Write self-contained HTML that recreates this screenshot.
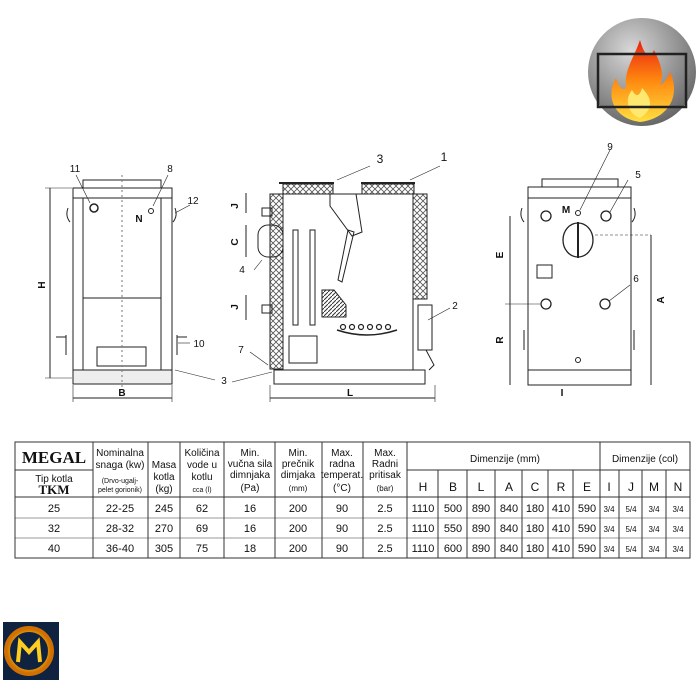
<!DOCTYPE html>
<html><head><meta charset="utf-8"><style>
body{margin:0;background:#fff;width:700px;height:700px;overflow:hidden;font-family:"Liberation Sans",sans-serif}
svg{position:absolute;left:0;top:0}
</style></head><body>
<svg width="700" height="700" viewBox="0 0 700 700" font-family="Liberation Sans, sans-serif">
<defs>
<radialGradient id="cg" cx="0.4" cy="0.3" r="0.8"><stop offset="0" stop-color="#d8d8d8"/><stop offset="1" stop-color="#5a5a5a"/></radialGradient>
<linearGradient id="fg" x1="0" y1="1" x2="0" y2="0"><stop offset="0" stop-color="#ffe040"/><stop offset="0.5" stop-color="#ff8a10"/><stop offset="1" stop-color="#e82010"/></linearGradient>
<pattern id="hx" width="6" height="6" patternUnits="userSpaceOnUse"><path d="M0 0L6 6M6 0L0 6" stroke="#555" stroke-width="0.8"/></pattern>
<pattern id="hd" width="4" height="4" patternUnits="userSpaceOnUse"><path d="M0 4L4 0" stroke="#333" stroke-width="1"/></pattern>
<radialGradient id="lg" cx="0.5" cy="0.5" r="0.5"><stop offset="0.6" stop-color="#ffcc20"/><stop offset="1" stop-color="#d07000"/></radialGradient>
</defs>
<circle cx="642" cy="72" r="54" fill="url(#cg)"/>
<path d="M640 122 C612 118 606 95 616 78 C620 92 626 90 626 86 C624 70 634 58 640 40 C644 55 650 60 654 50 C660 62 665 75 660 85 C666 82 668 76 670 72 C680 92 672 118 640 122Z" fill="url(#fg)"/>
<path d="M640 118 C628 114 624 100 632 90 C636 98 640 96 642 88 C650 96 656 108 640 118Z" fill="#ffe870"/>
<rect x="598" y="54" width="88" height="53" fill="none" stroke="#222" stroke-width="2.5"/>
<rect x="3" y="622" width="56" height="58" fill="#0f2340"/>
<circle cx="29" cy="651" r="22" fill="none" stroke="url(#lg)" stroke-width="6"/>
<path d="M18 662 L20 642 L29 652 L38 642 L40 662" fill="none" stroke="#ffcc20" stroke-width="4"/>

<g stroke="#222" fill="none" stroke-width="1">
<rect x="83" y="180" width="78" height="8"/>
<rect x="73" y="188" width="99" height="10"/>
<rect x="73" y="198" width="99" height="180"/>
<line x1="83" y1="198" x2="83" y2="378"/><line x1="161" y1="198" x2="161" y2="378"/>
<rect x="83" y="298" width="78" height="72"/>
<rect x="97" y="347" width="49" height="19"/>
<rect x="73" y="370" width="99" height="14" fill="#eee"/>
<circle cx="94" cy="208" r="4" stroke-width="1.5"/>
<circle cx="151" cy="211" r="2.5"/>
<line x1="122" y1="175" x2="122" y2="390" stroke-dasharray="2,3" stroke="#777"/>
<path d="M68 208 q-3 8 2 14 M175 208 q3 8 -2 14"/>
<path d="M66 335 v20 M177 335 v20"/><line x1="56" y1="337" x2="66" y2="337"/><line x1="177" y1="337" x2="187" y2="337"/>
<line x1="50" y1="188" x2="50" y2="378"/><line x1="45" y1="188" x2="72" y2="188" stroke-width="0.6"/><line x1="45" y1="378" x2="72" y2="378" stroke-width="0.6"/>
<line x1="73" y1="385" x2="73" y2="402" stroke-width="0.6"/><line x1="172" y1="385" x2="172" y2="402" stroke-width="0.6"/>
<line x1="73" y1="398" x2="172" y2="398"/>
<line x1="76" y1="175" x2="90" y2="203" stroke-width="0.6"/>
<line x1="168" y1="175" x2="153" y2="206" stroke-width="0.6"/>
<line x1="190" y1="205" x2="175" y2="213" stroke-width="0.6"/>
<line x1="190" y1="343" x2="178" y2="343" stroke-width="0.6"/>
<line x1="215" y1="380" x2="175" y2="370" stroke-width="0.6"/>
<rect x="270" y="194" width="13" height="175" fill="url(#hx)"/>
<rect x="413" y="194" width="14" height="105" fill="url(#hx)"/>
<rect x="283" y="184" width="50" height="10" fill="url(#hx)"/>
<rect x="362" y="184" width="52" height="10" fill="url(#hx)"/>
<line x1="279" y1="183" x2="334" y2="183" stroke-width="2"/><line x1="361" y1="183" x2="415" y2="183" stroke-width="2"/>
<rect x="283" y="194" width="130" height="176"/>
<path d="M330 194 v12 l22 30 l10 -4 l-6 -38"/>
<path d="M348 230 l-10 50 l4 2 l12 -50z"/>
<rect x="293" y="230" width="5" height="95"/><rect x="310" y="230" width="5" height="95"/>
<path d="M322 290 h12 l12 15 v12 h-24z" fill="url(#hd)"/>
<path d="M337 330 q30 10 60 0" stroke-width="1.5"/>
<g stroke-width="1.2"><circle cx="343" cy="327" r="2.5"/><circle cx="352" cy="327" r="2.5"/><circle cx="361" cy="327" r="2.5"/><circle cx="370" cy="327" r="2.5"/><circle cx="379" cy="327" r="2.5"/><circle cx="388" cy="327" r="2.5"/></g>
<rect x="289" y="336" width="28" height="27"/>
<rect x="418" y="305" width="14" height="45"/>
<path d="M426 350 l8 15 l-5 5"/>
<rect x="258" y="225" width="25" height="32" rx="10"/>
<rect x="262" y="208" width="10" height="8"/><rect x="262" y="305" width="10" height="8"/>
<rect x="274" y="370" width="151" height="14"/>
<line x1="270" y1="398" x2="435" y2="398"/><line x1="270" y1="385" x2="270" y2="402" stroke-width="0.6"/><line x1="435" y1="385" x2="435" y2="402" stroke-width="0.6"/>
<line x1="246" y1="193" x2="246" y2="213"/><line x1="246" y1="225" x2="246" y2="257"/><line x1="246" y1="295" x2="246" y2="320"/>
<line x1="337" y1="180" x2="370" y2="166" stroke-width="0.6"/><line x1="410" y1="180" x2="440" y2="166" stroke-width="0.6"/>
<line x1="428" y1="320" x2="450" y2="308" stroke-width="0.6"/>
<line x1="254" y1="270" x2="262" y2="260" stroke-width="0.6"/>
<line x1="250" y1="352" x2="268" y2="365" stroke-width="0.6"/>
<line x1="232" y1="382" x2="272" y2="372" stroke-width="0.6"/>
<rect x="542" y="179" width="76" height="8"/>
<rect x="528" y="187" width="103" height="11"/>
<rect x="528" y="198" width="103" height="172"/>
<rect x="528" y="370" width="103" height="15"/>
<g stroke-width="1.3"><circle cx="546" cy="216" r="5"/><circle cx="606" cy="216" r="5"/><circle cx="546" cy="304" r="5"/><circle cx="605" cy="304" r="5"/></g>
<circle cx="578" cy="213" r="2.5"/><circle cx="578" cy="360" r="2.5"/>
<ellipse cx="578" cy="240" rx="15" ry="17" stroke-width="1.3"/><line x1="578" y1="222" x2="578" y2="258" stroke-width="2"/>
<rect x="537" y="265" width="15" height="13"/>
<line x1="510" y1="216" x2="510" y2="385"/><line x1="505" y1="304" x2="540" y2="304" stroke-width="0.6"/>
<line x1="651" y1="235" x2="651" y2="385"/><line x1="595" y1="235" x2="651" y2="235" stroke-width="0.6" stroke-dasharray="3,2"/>
<path d="M522 208 q-3 8 2 14 M634 208 q3 8 -2 14"/>
<path d="M524 330 v20 M634 330 v20"/>
<line x1="610" y1="150" x2="580" y2="210" stroke-width="0.6"/><line x1="628" y1="180" x2="610" y2="212" stroke-width="0.6"/><line x1="630" y1="285" x2="609" y2="301" stroke-width="0.6"/>
</g>
<g font-size="10" fill="#111" text-anchor="middle">
<text x="75" y="172">11</text><text x="170" y="172">8</text><text x="193" y="204">12</text><text x="139" y="222" font-weight="bold">N</text><text x="199" y="347">10</text><text x="224" y="384">3</text>
<text x="45" y="285" font-weight="bold" transform="rotate(-90 45 285)">H</text><text x="122" y="396" font-weight="bold">B</text>
<text x="380" y="163" font-size="12">3</text><text x="444" y="161" font-size="12">1</text><text x="455" y="309">2</text><text x="242" y="273">4</text><text x="241" y="353">7</text>
<text x="350" y="396" font-weight="bold">L</text>
<text x="238" y="206" font-weight="bold" transform="rotate(-90 238 206)">J</text><text x="238" y="242" font-weight="bold" transform="rotate(-90 238 242)">C</text><text x="238" y="307" font-weight="bold" transform="rotate(-90 238 307)">J</text>
<text x="610" y="150">9</text><text x="638" y="178">5</text><text x="636" y="282">6</text><text x="566" y="213" font-weight="bold">M</text>
<text x="503" y="255" font-weight="bold" transform="rotate(-90 503 255)">E</text><text x="503" y="340" font-weight="bold" transform="rotate(-90 503 340)">R</text><text x="664" y="300" font-weight="bold" transform="rotate(-90 664 300)">A</text><text x="562" y="396" font-weight="bold">I</text>
</g>
<g stroke="#333" stroke-width="1" fill="none">
<rect x="15" y="442" width="675" height="116"/>
<line x1="15" y1="470" x2="93" y2="470"/>
<line x1="407" y1="470" x2="690" y2="470"/>
<line x1="15" y1="497" x2="690" y2="497"/>
<line x1="15" y1="518" x2="690" y2="518" stroke-width="0.5"/><line x1="15" y1="538" x2="690" y2="538" stroke-width="0.5"/>
<line x1="93" y1="442" x2="93" y2="558"/><line x1="148" y1="442" x2="148" y2="558"/><line x1="180" y1="442" x2="180" y2="558"/><line x1="224" y1="442" x2="224" y2="558"/><line x1="275" y1="442" x2="275" y2="558"/><line x1="322" y1="442" x2="322" y2="558"/><line x1="363" y1="442" x2="363" y2="558"/><line x1="407" y1="442" x2="407" y2="558"/><line x1="600" y1="442" x2="600" y2="558"/>
<line x1="438" y1="470" x2="438" y2="558"/><line x1="467" y1="470" x2="467" y2="558"/><line x1="495" y1="470" x2="495" y2="558"/><line x1="522" y1="470" x2="522" y2="558"/><line x1="548" y1="470" x2="548" y2="558"/><line x1="573" y1="470" x2="573" y2="558"/><line x1="619" y1="470" x2="619" y2="558"/><line x1="642" y1="470" x2="642" y2="558"/><line x1="666" y1="470" x2="666" y2="558"/>
</g>
<g font-size="10" fill="#111" text-anchor="middle">
<text x="54" y="463" font-family="Liberation Serif, serif" font-weight="bold" font-size="17">MEGAL</text>
<text x="54" y="482">Tip kotla</text><text x="54" y="494" font-family="Liberation Serif, serif" font-weight="bold" font-size="13">TKM</text>
<text x="120" y="456">Nominalna</text><text x="120" y="468">snaga (kw)</text><text x="120" y="483" font-size="7">(Drvo-ugalj-</text><text x="120" y="492" font-size="7">pelet gorionik)</text>
<text x="164" y="468">Masa</text><text x="164" y="480">kotla</text><text x="164" y="492">(kg)</text>
<text x="202" y="456">Količina</text><text x="202" y="468">vode u</text><text x="202" y="480">kotlu</text><text x="202" y="492" font-size="7">cca (l)</text>
<text x="250" y="456">Min.</text><text x="250" y="467">vučna sila</text><text x="250" y="478">dimnjaka</text><text x="250" y="491">(Pa)</text>
<text x="298" y="456">Min.</text><text x="298" y="467">prečnik</text><text x="298" y="478">dimjaka</text><text x="298" y="491" font-size="8">(mm)</text>
<text x="342" y="456">Max.</text><text x="342" y="467">radna</text><text x="342" y="478">temperat.</text><text x="342" y="491">(°C)</text>
<text x="385" y="456">Max.</text><text x="385" y="467">Radni</text><text x="385" y="478">pritisak</text><text x="385" y="491" font-size="8">(bar)</text>
<text x="505" y="462">Dimenzije (mm)</text><text x="645" y="462">Dimenzije (col)</text>
<g font-size="12"><text x="423" y="491">H</text><text x="453" y="491">B</text><text x="481" y="491">L</text><text x="509" y="491">A</text><text x="535" y="491">C</text><text x="561" y="491">R</text><text x="587" y="491">E</text><text x="609" y="491">I</text><text x="631" y="491">J</text><text x="654" y="491">M</text><text x="678" y="491">N</text></g>
<g font-size="11">
<text x="54" y="512">25</text><text x="120" y="512">22-25</text><text x="164" y="512">245</text><text x="202" y="512">62</text><text x="250" y="512">16</text><text x="298" y="512">200</text><text x="342" y="512">90</text><text x="385" y="512">2.5</text><text x="423" y="512">1110</text><text x="453" y="512">500</text><text x="481" y="512">890</text><text x="509" y="512">840</text><text x="535" y="512">180</text><text x="561" y="512">410</text><text x="587" y="512">590</text>
<text x="54" y="532">32</text><text x="120" y="532">28-32</text><text x="164" y="532">270</text><text x="202" y="532">69</text><text x="250" y="532">16</text><text x="298" y="532">200</text><text x="342" y="532">90</text><text x="385" y="532">2.5</text><text x="423" y="532">1110</text><text x="453" y="532">550</text><text x="481" y="532">890</text><text x="509" y="532">840</text><text x="535" y="532">180</text><text x="561" y="532">410</text><text x="587" y="532">590</text>
<text x="54" y="552">40</text><text x="120" y="552">36-40</text><text x="164" y="552">305</text><text x="202" y="552">75</text><text x="250" y="552">18</text><text x="298" y="552">200</text><text x="342" y="552">90</text><text x="385" y="552">2.5</text><text x="423" y="552">1110</text><text x="453" y="552">600</text><text x="481" y="552">890</text><text x="509" y="552">840</text><text x="535" y="552">180</text><text x="561" y="552">410</text><text x="587" y="552">590</text>
</g>
<g font-size="8"><text x="609" y="512">3/4</text><text x="631" y="512">5/4</text><text x="654" y="512">3/4</text><text x="678" y="512">3/4</text>
<text x="609" y="532">3/4</text><text x="631" y="532">5/4</text><text x="654" y="532">3/4</text><text x="678" y="532">3/4</text>
<text x="609" y="552">3/4</text><text x="631" y="552">5/4</text><text x="654" y="552">3/4</text><text x="678" y="552">3/4</text></g>
</g>
</svg>
</body></html>
